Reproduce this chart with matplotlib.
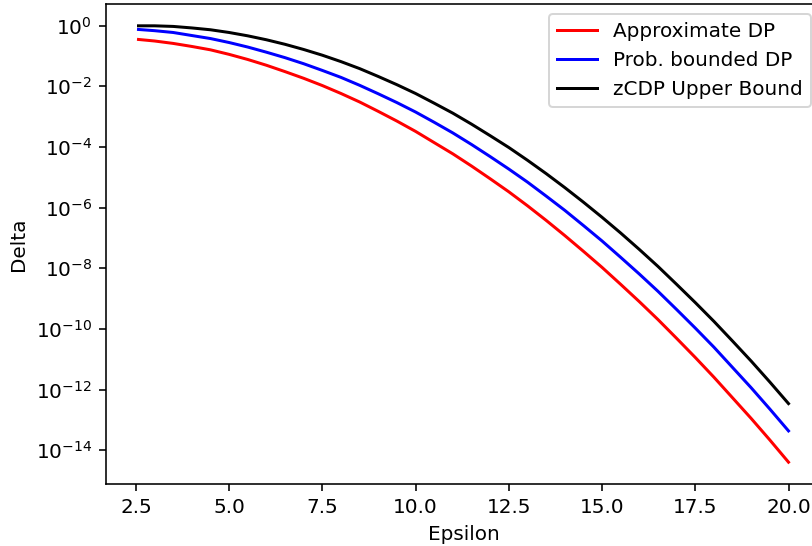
import numpy as np
import matplotlib
matplotlib.use('Agg')
import matplotlib.pyplot as plt

# values (log y axis)
epsilon = [2.57, 3.0, 3.5, 4.0, 4.5, 5.0, 5.5, 6.0, 6.5, 7.0, 7.5, 8.0,
           8.5, 9.0, 9.5, 10.0, 10.5, 11.0, 11.5, 12.0, 12.5, 13.0, 13.5, 14.0,
           14.5, 15.0, 15.5, 16.0, 16.5, 17.0, 17.5, 18.0, 18.5, 19.0, 19.5, 20.0]

delta_approx = [0.347, 0.309, 0.257, 0.204, 0.158, 0.112, 0.0759, 0.0490,
                0.0302, 0.0182, 0.0105, 5.75e-3, 3.02e-3, 1.48e-3, 7.08e-4,
                3.24e-4, 1.38e-4, 5.89e-5, 2.34e-5, 8.91e-6, 3.31e-6, 1.15e-6,
                3.80e-7, 1.20e-7, 3.63e-8, 1.07e-8, 2.95e-9, 7.94e-10, 2.04e-10,
                4.90e-11, 1.15e-11, 2.57e-12, 5.37e-13, 1.12e-13, 2.19e-14, 4.07e-15]

delta_prob = [0.741, 0.676, 0.589, 0.468, 0.372, 0.275, 0.195, 0.132,
              0.0871, 0.0550, 0.0331, 0.0195, 0.0107, 5.62e-3, 2.88e-3,
              1.41e-3, 6.46e-4, 2.88e-4, 1.20e-4, 4.79e-5, 1.86e-5, 6.92e-6,
              2.40e-6, 8.13e-7, 2.57e-7, 7.94e-8, 2.29e-8, 6.46e-9, 1.74e-9,
              4.37e-10, 1.07e-10, 2.51e-11, 5.37e-12, 1.15e-12, 2.29e-13, 4.37e-14]

delta_zcdp = [0.977, 0.977, 0.933, 0.832, 0.724, 0.589, 0.457, 0.339,
              0.240, 0.162, 0.105, 0.0646, 0.0380, 0.0209, 0.0112,
              5.75e-3, 2.75e-3, 1.29e-3, 5.62e-4, 2.34e-4, 9.55e-5, 3.63e-5,
              1.32e-5, 4.57e-6, 1.51e-6, 4.79e-7, 1.45e-7, 4.17e-8, 1.15e-8,
              2.95e-9, 7.41e-10, 1.78e-10, 3.98e-11, 8.71e-12, 1.78e-12, 3.47e-13]

dpi = 144
fig = plt.figure(figsize=(812 / dpi, 546 / dpi), dpi=dpi)
# axes runs past the right edge of the canvas, like the reference
ax = fig.add_axes([106 / 812, 62 / 546, 715 / 812, 480 / 546])

ax.plot(epsilon, delta_approx, c='red', label='Approximate DP')
ax.plot(epsilon, delta_prob, c='blue', label='Prob. bounded DP')
ax.plot(epsilon, delta_zcdp, c='black', label='zCDP Upper Bound')
ax.set_yscale('log')
ax.set_xlabel('Epsilon', labelpad=4)
ax.set_ylabel('Delta')
ax.set_xticks([2.5, 5.0, 7.5, 10.0, 12.5, 15.0, 17.5, 20.0])
ax.legend(loc='upper right')

fig.savefig('out.png', dpi=dpi)
